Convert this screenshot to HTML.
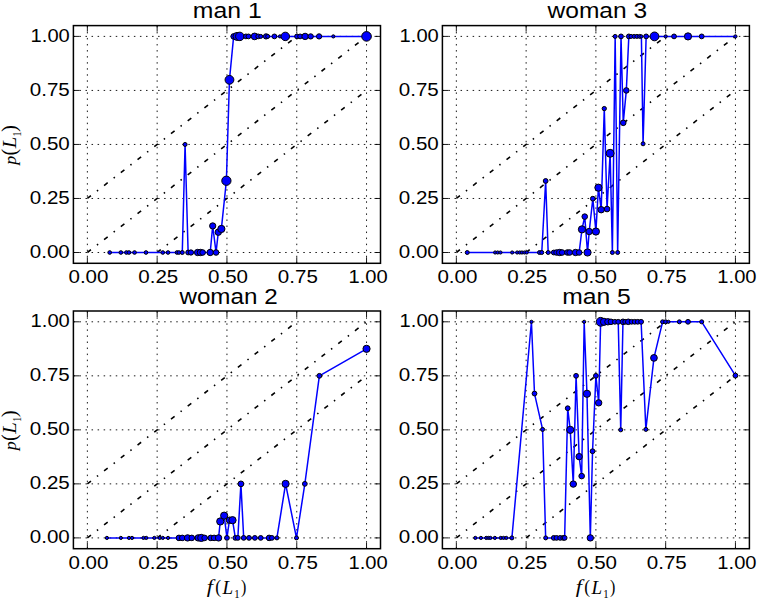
<!DOCTYPE html><html><head><meta charset="utf-8"><style>html,body{margin:0;padding:0;background:#fff;}svg{display:block;}text{font-family:"Liberation Sans",sans-serif;fill:#000;}.m{font-family:"Liberation Serif",serif;}.i{font-style:italic;}</style></head><body>
<svg width="758" height="600" viewBox="0 0 758 600">
<rect width="758" height="600" fill="#fff"/>
<clipPath id="cp00"><rect x="73.4" y="25.6" width="307.1" height="237.7"/></clipPath>
<g clip-path="url(#cp00)">
<path d="M87.36 263.3L87.36 25.6M73.4 252.5L380.5 252.5M157.15 263.3L157.15 25.6M73.4 198.47L380.5 198.47M226.95 263.3L226.95 25.6M73.4 144.45L380.5 144.45M296.75 263.3L296.75 25.6M73.4 90.43L380.5 90.43M366.54 263.3L366.54 25.6M73.4 36.4L380.5 36.4" stroke="#000" stroke-width="0.9" stroke-dasharray="1.5 4.55" fill="none"/>
<path d="M87.36 198.47L296.75 36.4" stroke="#000" stroke-width="1.6" stroke-dasharray="4.55 7.55 1.5 7.55" fill="none"/>
<path d="M87.36 252.5L366.54 36.4" stroke="#000" stroke-width="1.6" stroke-dasharray="4.55 7.55 1.5 7.55" fill="none"/>
<path d="M157.15 252.5L366.54 90.43" stroke="#000" stroke-width="1.6" stroke-dasharray="4.55 7.55 1.5 7.55" fill="none"/>
<path d="M109.69 252.5 L120.86 252.5 L126.44 252.5 L128.96 252.5 L134.54 252.5 L145.99 252.5 L162.74 252.5 L168.04 252.5 L176.98 252.5 L178.93 252.5 L182.28 252.5 L185.07 144.45 L188.14 252.5 L190.94 252.5 L197.64 252.5 L200.43 252.5 L202.66 252.5 L210.2 252.5 L212.71 225.92 L216.06 252.5 L218.3 232.18 L221.37 228.94 L226.39 180.75 L229.46 79.84 L233.65 36.4 L237 36.4 L239.79 36.4 L245.93 36.4 L248.45 36.4 L254.59 36.4 L258.22 36.4 L260.73 36.4 L266.04 36.4 L267.71 36.4 L274.41 36.4 L279.99 36.4 L285.3 36.4 L297.02 36.4 L300.1 36.4 L305.12 36.4 L310.7 36.4 L319.08 36.4 L333.32 36.4 L366.54 36.4" stroke="#0000ff" stroke-width="1.5" fill="none" stroke-linejoin="round"/>
<circle cx="109.69" cy="252.5" r="1.84" fill="#0000ff" stroke="#000" stroke-width="1.0"/>
<circle cx="120.86" cy="252.5" r="1.84" fill="#0000ff" stroke="#000" stroke-width="1.0"/>
<circle cx="126.44" cy="252.5" r="1.84" fill="#0000ff" stroke="#000" stroke-width="1.0"/>
<circle cx="128.96" cy="252.5" r="1.84" fill="#0000ff" stroke="#000" stroke-width="1.0"/>
<circle cx="134.54" cy="252.5" r="1.84" fill="#0000ff" stroke="#000" stroke-width="1.0"/>
<circle cx="145.99" cy="252.5" r="1.84" fill="#0000ff" stroke="#000" stroke-width="1.0"/>
<circle cx="162.74" cy="252.5" r="1.84" fill="#0000ff" stroke="#000" stroke-width="1.0"/>
<circle cx="168.04" cy="252.5" r="1.84" fill="#0000ff" stroke="#000" stroke-width="1.0"/>
<circle cx="176.98" cy="252.5" r="1.84" fill="#0000ff" stroke="#000" stroke-width="1.0"/>
<circle cx="178.93" cy="252.5" r="1.84" fill="#0000ff" stroke="#000" stroke-width="1.0"/>
<circle cx="182.28" cy="252.5" r="2" fill="#0000ff" stroke="#000" stroke-width="1.0"/>
<circle cx="185.07" cy="144.45" r="2" fill="#0000ff" stroke="#000" stroke-width="1.0"/>
<circle cx="188.14" cy="252.5" r="2.4" fill="#0000ff" stroke="#000" stroke-width="1.0"/>
<circle cx="190.94" cy="252.5" r="2.64" fill="#0000ff" stroke="#000" stroke-width="1.0"/>
<circle cx="197.64" cy="252.5" r="3.2" fill="#0000ff" stroke="#000" stroke-width="1.0"/>
<circle cx="200.43" cy="252.5" r="3.2" fill="#0000ff" stroke="#000" stroke-width="1.0"/>
<circle cx="202.66" cy="252.5" r="2.8" fill="#0000ff" stroke="#000" stroke-width="1.0"/>
<circle cx="210.2" cy="252.5" r="3.2" fill="#0000ff" stroke="#000" stroke-width="1.0"/>
<circle cx="212.71" cy="225.92" r="3.12" fill="#0000ff" stroke="#000" stroke-width="1.0"/>
<circle cx="216.06" cy="252.5" r="2.8" fill="#0000ff" stroke="#000" stroke-width="1.0"/>
<circle cx="218.3" cy="232.18" r="3.2" fill="#0000ff" stroke="#000" stroke-width="1.0"/>
<circle cx="221.37" cy="228.94" r="3.6" fill="#0000ff" stroke="#000" stroke-width="1.0"/>
<circle cx="226.39" cy="180.75" r="4.64" fill="#0000ff" stroke="#000" stroke-width="1.0"/>
<circle cx="229.46" cy="79.84" r="4.4" fill="#0000ff" stroke="#000" stroke-width="1.0"/>
<circle cx="233.65" cy="36.4" r="2.8" fill="#0000ff" stroke="#000" stroke-width="1.0"/>
<circle cx="237" cy="36.4" r="4" fill="#0000ff" stroke="#000" stroke-width="1.0"/>
<circle cx="239.79" cy="36.4" r="4.24" fill="#0000ff" stroke="#000" stroke-width="1.0"/>
<circle cx="245.93" cy="36.4" r="2.4" fill="#0000ff" stroke="#000" stroke-width="1.0"/>
<circle cx="248.45" cy="36.4" r="2.4" fill="#0000ff" stroke="#000" stroke-width="1.0"/>
<circle cx="254.59" cy="36.4" r="3.36" fill="#0000ff" stroke="#000" stroke-width="1.0"/>
<circle cx="258.22" cy="36.4" r="2.4" fill="#0000ff" stroke="#000" stroke-width="1.0"/>
<circle cx="260.73" cy="36.4" r="2" fill="#0000ff" stroke="#000" stroke-width="1.0"/>
<circle cx="266.04" cy="36.4" r="2.64" fill="#0000ff" stroke="#000" stroke-width="1.0"/>
<circle cx="267.71" cy="36.4" r="2" fill="#0000ff" stroke="#000" stroke-width="1.0"/>
<circle cx="274.41" cy="36.4" r="2.4" fill="#0000ff" stroke="#000" stroke-width="1.0"/>
<circle cx="279.99" cy="36.4" r="1.6" fill="#0000ff" stroke="#000" stroke-width="1.0"/>
<circle cx="285.3" cy="36.4" r="4.24" fill="#0000ff" stroke="#000" stroke-width="1.0"/>
<circle cx="297.02" cy="36.4" r="2.4" fill="#0000ff" stroke="#000" stroke-width="1.0"/>
<circle cx="300.1" cy="36.4" r="2.4" fill="#0000ff" stroke="#000" stroke-width="1.0"/>
<circle cx="305.12" cy="36.4" r="3.2" fill="#0000ff" stroke="#000" stroke-width="1.0"/>
<circle cx="310.7" cy="36.4" r="2.64" fill="#0000ff" stroke="#000" stroke-width="1.0"/>
<circle cx="319.08" cy="36.4" r="2.64" fill="#0000ff" stroke="#000" stroke-width="1.0"/>
<circle cx="333.32" cy="36.4" r="1.6" fill="#0000ff" stroke="#000" stroke-width="1.0"/>
<circle cx="366.54" cy="36.4" r="4.8" fill="#0000ff" stroke="#000" stroke-width="1.0"/>
</g>
<path d="M87.36 263.3v-6M87.36 25.6v6M73.4 252.5h6M380.5 252.5h-6M157.15 263.3v-6M157.15 25.6v6M73.4 198.47h6M380.5 198.47h-6M226.95 263.3v-6M226.95 25.6v6M73.4 144.45h6M380.5 144.45h-6M296.75 263.3v-6M296.75 25.6v6M73.4 90.43h6M380.5 90.43h-6M366.54 263.3v-6M366.54 25.6v6M73.4 36.4h6M380.5 36.4h-6" stroke="#000" stroke-width="0.9" fill="none"/>
<rect x="73.4" y="25.6" width="307.1" height="237.7" fill="none" stroke="#000" stroke-width="1.5"/>
<text x="88.46" y="283.1" font-size="19.0" text-anchor="middle" textLength="40" lengthAdjust="spacingAndGlyphs">0.00</text>
<text x="69.8" y="257.8" font-size="19.0" text-anchor="end" textLength="40" lengthAdjust="spacingAndGlyphs">0.00</text>
<text x="158.25" y="283.1" font-size="19.0" text-anchor="middle" textLength="40" lengthAdjust="spacingAndGlyphs">0.25</text>
<text x="69.8" y="203.77" font-size="19.0" text-anchor="end" textLength="40" lengthAdjust="spacingAndGlyphs">0.25</text>
<text x="228.05" y="283.1" font-size="19.0" text-anchor="middle" textLength="40" lengthAdjust="spacingAndGlyphs">0.50</text>
<text x="69.8" y="149.75" font-size="19.0" text-anchor="end" textLength="40" lengthAdjust="spacingAndGlyphs">0.50</text>
<text x="297.85" y="283.1" font-size="19.0" text-anchor="middle" textLength="40" lengthAdjust="spacingAndGlyphs">0.75</text>
<text x="69.8" y="95.73" font-size="19.0" text-anchor="end" textLength="40" lengthAdjust="spacingAndGlyphs">0.75</text>
<text x="368.04" y="283.1" font-size="19.0" text-anchor="middle" textLength="39.2" lengthAdjust="spacingAndGlyphs">1.00</text>
<text x="69.8" y="41.7" font-size="19.0" text-anchor="end" textLength="39.2" lengthAdjust="spacingAndGlyphs">1.00</text>
<text x="192.85" y="17.90" font-size="22" textLength="68.85" lengthAdjust="spacingAndGlyphs">man 1</text>
<text class="m i" font-size="100" transform="matrix(0.00000 -0.17982 0.17103 0.00000 15.85889 164.84640)">p</text>
<text class="m" font-size="100" transform="matrix(0.00000 -0.20246 0.20072 0.00000 16.12687 155.58973)">(</text>
<text class="m i" font-size="100" transform="matrix(0.00000 -0.20749 0.18479 0.00000 15.60000 148.35685)">L</text>
<text class="m" font-size="100" transform="matrix(0.00000 -0.09942 0.11815 0.00000 20.80000 136.47379)">1</text>
<text class="m" font-size="100" transform="matrix(0.00000 -0.20636 0.20072 0.00000 16.12687 131.96502)">)</text>
<clipPath id="cp01"><rect x="442.4" y="25.6" width="307" height="237.7"/></clipPath>
<g clip-path="url(#cp01)">
<path d="M456.35 263.3L456.35 25.6M442.4 252.5L749.4 252.5M526.13 263.3L526.13 25.6M442.4 198.47L749.4 198.47M595.9 263.3L595.9 25.6M442.4 144.45L749.4 144.45M665.67 263.3L665.67 25.6M442.4 90.43L749.4 90.43M735.45 263.3L735.45 25.6M442.4 36.4L749.4 36.4" stroke="#000" stroke-width="0.9" stroke-dasharray="1.5 4.55" fill="none"/>
<path d="M456.35 198.47L665.67 36.4" stroke="#000" stroke-width="1.6" stroke-dasharray="4.55 7.55 1.5 7.55" fill="none"/>
<path d="M456.35 252.5L735.45 36.4" stroke="#000" stroke-width="1.6" stroke-dasharray="4.55 7.55 1.5 7.55" fill="none"/>
<path d="M526.13 252.5L735.45 90.43" stroke="#000" stroke-width="1.6" stroke-dasharray="4.55 7.55 1.5 7.55" fill="none"/>
<path d="M467.24 252.5 L495.15 252.5 L497.66 252.5 L500.45 252.5 L512.17 252.5 L517.2 252.5 L519.71 252.5 L521.94 252.5 L524.45 252.5 L526.69 252.5 L539.52 252.5 L541.76 252.5 L545.66 180.97 L548.18 252.5 L553.76 252.5 L556.55 252.5 L559.62 252.5 L562.13 252.5 L567.43 252.5 L569.67 252.5 L575.53 252.5 L579.15 252.5 L581.95 229.37 L584.74 216.62 L587.53 252.5 L589.2 231.53 L592.83 198.69 L595.9 231.53 L598.41 187.67 L601.2 209.71 L604.27 108.58 L607.06 209.06 L610.13 153.31 L612.37 252.5 L615.16 36.4 L617.67 252.5 L621.02 36.4 L623.25 122.84 L626.32 90.43 L628.83 36.4 L631.07 36.4 L634.14 36.4 L636.93 36.4 L639.72 36.4 L641.39 36.4 L643.07 143.8 L646.14 36.4 L654.51 36.4 L665.67 36.4 L674.05 36.4 L688 36.4 L701.68 36.4 L735.45 36.4" stroke="#0000ff" stroke-width="1.5" fill="none" stroke-linejoin="round"/>
<circle cx="467.24" cy="252.5" r="2" fill="#0000ff" stroke="#000" stroke-width="1.0"/>
<circle cx="495.15" cy="252.5" r="1.6" fill="#0000ff" stroke="#000" stroke-width="1.0"/>
<circle cx="497.66" cy="252.5" r="1.6" fill="#0000ff" stroke="#000" stroke-width="1.0"/>
<circle cx="500.45" cy="252.5" r="1.6" fill="#0000ff" stroke="#000" stroke-width="1.0"/>
<circle cx="512.17" cy="252.5" r="1.6" fill="#0000ff" stroke="#000" stroke-width="1.0"/>
<circle cx="517.2" cy="252.5" r="1.6" fill="#0000ff" stroke="#000" stroke-width="1.0"/>
<circle cx="519.71" cy="252.5" r="1.6" fill="#0000ff" stroke="#000" stroke-width="1.0"/>
<circle cx="521.94" cy="252.5" r="1.6" fill="#0000ff" stroke="#000" stroke-width="1.0"/>
<circle cx="524.45" cy="252.5" r="1.6" fill="#0000ff" stroke="#000" stroke-width="1.0"/>
<circle cx="526.69" cy="252.5" r="1.6" fill="#0000ff" stroke="#000" stroke-width="1.0"/>
<circle cx="539.52" cy="252.5" r="2" fill="#0000ff" stroke="#000" stroke-width="1.0"/>
<circle cx="541.76" cy="252.5" r="2" fill="#0000ff" stroke="#000" stroke-width="1.0"/>
<circle cx="545.66" cy="180.97" r="2.4" fill="#0000ff" stroke="#000" stroke-width="1.0"/>
<circle cx="548.18" cy="252.5" r="2" fill="#0000ff" stroke="#000" stroke-width="1.0"/>
<circle cx="553.76" cy="252.5" r="2.4" fill="#0000ff" stroke="#000" stroke-width="1.0"/>
<circle cx="556.55" cy="252.5" r="2.8" fill="#0000ff" stroke="#000" stroke-width="1.0"/>
<circle cx="559.62" cy="252.5" r="3.2" fill="#0000ff" stroke="#000" stroke-width="1.0"/>
<circle cx="562.13" cy="252.5" r="2.8" fill="#0000ff" stroke="#000" stroke-width="1.0"/>
<circle cx="567.43" cy="252.5" r="2.8" fill="#0000ff" stroke="#000" stroke-width="1.0"/>
<circle cx="569.67" cy="252.5" r="2.8" fill="#0000ff" stroke="#000" stroke-width="1.0"/>
<circle cx="575.53" cy="252.5" r="3.2" fill="#0000ff" stroke="#000" stroke-width="1.0"/>
<circle cx="579.15" cy="252.5" r="2.8" fill="#0000ff" stroke="#000" stroke-width="1.0"/>
<circle cx="581.95" cy="229.37" r="3.6" fill="#0000ff" stroke="#000" stroke-width="1.0"/>
<circle cx="584.74" cy="216.62" r="2.8" fill="#0000ff" stroke="#000" stroke-width="1.0"/>
<circle cx="587.53" cy="252.5" r="3.6" fill="#0000ff" stroke="#000" stroke-width="1.0"/>
<circle cx="589.2" cy="231.53" r="3.2" fill="#0000ff" stroke="#000" stroke-width="1.0"/>
<circle cx="592.83" cy="198.69" r="2.4" fill="#0000ff" stroke="#000" stroke-width="1.0"/>
<circle cx="595.9" cy="231.53" r="3.6" fill="#0000ff" stroke="#000" stroke-width="1.0"/>
<circle cx="598.41" cy="187.67" r="3.6" fill="#0000ff" stroke="#000" stroke-width="1.0"/>
<circle cx="601.2" cy="209.71" r="3.2" fill="#0000ff" stroke="#000" stroke-width="1.0"/>
<circle cx="604.27" cy="108.58" r="2.16" fill="#0000ff" stroke="#000" stroke-width="1.0"/>
<circle cx="607.06" cy="209.06" r="2.8" fill="#0000ff" stroke="#000" stroke-width="1.0"/>
<circle cx="610.13" cy="153.31" r="4" fill="#0000ff" stroke="#000" stroke-width="1.0"/>
<circle cx="612.37" cy="252.5" r="2" fill="#0000ff" stroke="#000" stroke-width="1.0"/>
<circle cx="615.16" cy="36.4" r="2" fill="#0000ff" stroke="#000" stroke-width="1.0"/>
<circle cx="617.67" cy="252.5" r="2" fill="#0000ff" stroke="#000" stroke-width="1.0"/>
<circle cx="621.02" cy="36.4" r="2.4" fill="#0000ff" stroke="#000" stroke-width="1.0"/>
<circle cx="623.25" cy="122.84" r="2.8" fill="#0000ff" stroke="#000" stroke-width="1.0"/>
<circle cx="626.32" cy="90.43" r="2.8" fill="#0000ff" stroke="#000" stroke-width="1.0"/>
<circle cx="628.83" cy="36.4" r="2.4" fill="#0000ff" stroke="#000" stroke-width="1.0"/>
<circle cx="631.07" cy="36.4" r="2" fill="#0000ff" stroke="#000" stroke-width="1.0"/>
<circle cx="634.14" cy="36.4" r="2" fill="#0000ff" stroke="#000" stroke-width="1.0"/>
<circle cx="636.93" cy="36.4" r="2" fill="#0000ff" stroke="#000" stroke-width="1.0"/>
<circle cx="639.72" cy="36.4" r="2" fill="#0000ff" stroke="#000" stroke-width="1.0"/>
<circle cx="641.39" cy="36.4" r="1.6" fill="#0000ff" stroke="#000" stroke-width="1.0"/>
<circle cx="643.07" cy="143.8" r="2" fill="#0000ff" stroke="#000" stroke-width="1.0"/>
<circle cx="646.14" cy="36.4" r="2.4" fill="#0000ff" stroke="#000" stroke-width="1.0"/>
<circle cx="654.51" cy="36.4" r="4.4" fill="#0000ff" stroke="#000" stroke-width="1.0"/>
<circle cx="665.67" cy="36.4" r="1.6" fill="#0000ff" stroke="#000" stroke-width="1.0"/>
<circle cx="674.05" cy="36.4" r="2.4" fill="#0000ff" stroke="#000" stroke-width="1.0"/>
<circle cx="688" cy="36.4" r="3.6" fill="#0000ff" stroke="#000" stroke-width="1.0"/>
<circle cx="701.68" cy="36.4" r="2.4" fill="#0000ff" stroke="#000" stroke-width="1.0"/>
<circle cx="735.45" cy="36.4" r="1.6" fill="#0000ff" stroke="#000" stroke-width="1.0"/>
</g>
<path d="M456.35 263.3v-6M456.35 25.6v6M442.4 252.5h6M749.4 252.5h-6M526.13 263.3v-6M526.13 25.6v6M442.4 198.47h6M749.4 198.47h-6M595.9 263.3v-6M595.9 25.6v6M442.4 144.45h6M749.4 144.45h-6M665.67 263.3v-6M665.67 25.6v6M442.4 90.43h6M749.4 90.43h-6M735.45 263.3v-6M735.45 25.6v6M442.4 36.4h6M749.4 36.4h-6" stroke="#000" stroke-width="0.9" fill="none"/>
<rect x="442.4" y="25.6" width="307" height="237.7" fill="none" stroke="#000" stroke-width="1.5"/>
<text x="457.45" y="283.1" font-size="19.0" text-anchor="middle" textLength="40" lengthAdjust="spacingAndGlyphs">0.00</text>
<text x="438.8" y="257.8" font-size="19.0" text-anchor="end" textLength="40" lengthAdjust="spacingAndGlyphs">0.00</text>
<text x="527.23" y="283.1" font-size="19.0" text-anchor="middle" textLength="40" lengthAdjust="spacingAndGlyphs">0.25</text>
<text x="438.8" y="203.77" font-size="19.0" text-anchor="end" textLength="40" lengthAdjust="spacingAndGlyphs">0.25</text>
<text x="597" y="283.1" font-size="19.0" text-anchor="middle" textLength="40" lengthAdjust="spacingAndGlyphs">0.50</text>
<text x="438.8" y="149.75" font-size="19.0" text-anchor="end" textLength="40" lengthAdjust="spacingAndGlyphs">0.50</text>
<text x="666.77" y="283.1" font-size="19.0" text-anchor="middle" textLength="40" lengthAdjust="spacingAndGlyphs">0.75</text>
<text x="438.8" y="95.73" font-size="19.0" text-anchor="end" textLength="40" lengthAdjust="spacingAndGlyphs">0.75</text>
<text x="736.95" y="283.1" font-size="19.0" text-anchor="middle" textLength="39.2" lengthAdjust="spacingAndGlyphs">1.00</text>
<text x="438.8" y="41.7" font-size="19.0" text-anchor="end" textLength="39.2" lengthAdjust="spacingAndGlyphs">1.00</text>
<text x="547.54" y="17.90" font-size="22" textLength="99.54" lengthAdjust="spacingAndGlyphs">woman 3</text>
<clipPath id="cp10"><rect x="73.4" y="311" width="307.1" height="237.7"/></clipPath>
<g clip-path="url(#cp10)">
<path d="M87.36 548.7L87.36 311M73.4 537.9L380.5 537.9M157.15 548.7L157.15 311M73.4 483.87L380.5 483.87M226.95 548.7L226.95 311M73.4 429.85L380.5 429.85M296.75 548.7L296.75 311M73.4 375.83L380.5 375.83M366.54 548.7L366.54 311M73.4 321.8L380.5 321.8" stroke="#000" stroke-width="0.9" stroke-dasharray="1.5 4.55" fill="none"/>
<path d="M87.36 483.87L296.75 321.8" stroke="#000" stroke-width="1.6" stroke-dasharray="4.55 7.55 1.5 7.55" fill="none"/>
<path d="M87.36 537.9L366.54 321.8" stroke="#000" stroke-width="1.6" stroke-dasharray="4.55 7.55 1.5 7.55" fill="none"/>
<path d="M157.15 537.9L366.54 375.83" stroke="#000" stroke-width="1.6" stroke-dasharray="4.55 7.55 1.5 7.55" fill="none"/>
<path d="M106.9 537.9 L120.86 537.9 L128.96 537.9 L132.03 537.9 L143.47 537.9 L146.27 537.9 L154.36 537.9 L159.67 537.9 L162.74 537.9 L168.04 537.9 L178.93 537.9 L182.28 537.9 L187.59 537.9 L191.77 537.9 L198.19 537.9 L201.27 537.9 L204.62 537.9 L210.76 537.9 L214.11 537.9 L218.57 537.9 L220.25 521.47 L224.16 515.64 L226.95 537.9 L229.46 520.18 L232.53 520.18 L235.33 537.9 L237.84 537.9 L240.91 483.87 L243.7 537.9 L249.01 537.9 L254.87 537.9 L260.73 537.9 L269.11 537.9 L271.9 537.9 L276.92 537.9 L285.58 483.87 L296.47 537.9 L304.84 483.87 L319.36 375.83 L366.54 348.82" stroke="#0000ff" stroke-width="1.5" fill="none" stroke-linejoin="round"/>
<circle cx="106.9" cy="537.9" r="1.6" fill="#0000ff" stroke="#000" stroke-width="1.0"/>
<circle cx="120.86" cy="537.9" r="1.6" fill="#0000ff" stroke="#000" stroke-width="1.0"/>
<circle cx="128.96" cy="537.9" r="1.6" fill="#0000ff" stroke="#000" stroke-width="1.0"/>
<circle cx="132.03" cy="537.9" r="1.6" fill="#0000ff" stroke="#000" stroke-width="1.0"/>
<circle cx="143.47" cy="537.9" r="1.6" fill="#0000ff" stroke="#000" stroke-width="1.0"/>
<circle cx="146.27" cy="537.9" r="1.6" fill="#0000ff" stroke="#000" stroke-width="1.0"/>
<circle cx="154.36" cy="537.9" r="1.6" fill="#0000ff" stroke="#000" stroke-width="1.0"/>
<circle cx="159.67" cy="537.9" r="1.6" fill="#0000ff" stroke="#000" stroke-width="1.0"/>
<circle cx="162.74" cy="537.9" r="1.6" fill="#0000ff" stroke="#000" stroke-width="1.0"/>
<circle cx="168.04" cy="537.9" r="1.6" fill="#0000ff" stroke="#000" stroke-width="1.0"/>
<circle cx="178.93" cy="537.9" r="2.8" fill="#0000ff" stroke="#000" stroke-width="1.0"/>
<circle cx="182.28" cy="537.9" r="2.8" fill="#0000ff" stroke="#000" stroke-width="1.0"/>
<circle cx="187.59" cy="537.9" r="3.2" fill="#0000ff" stroke="#000" stroke-width="1.0"/>
<circle cx="191.77" cy="537.9" r="2.8" fill="#0000ff" stroke="#000" stroke-width="1.0"/>
<circle cx="198.19" cy="537.9" r="3.2" fill="#0000ff" stroke="#000" stroke-width="1.0"/>
<circle cx="201.27" cy="537.9" r="3.6" fill="#0000ff" stroke="#000" stroke-width="1.0"/>
<circle cx="204.62" cy="537.9" r="2.8" fill="#0000ff" stroke="#000" stroke-width="1.0"/>
<circle cx="210.76" cy="537.9" r="2.8" fill="#0000ff" stroke="#000" stroke-width="1.0"/>
<circle cx="214.11" cy="537.9" r="2.8" fill="#0000ff" stroke="#000" stroke-width="1.0"/>
<circle cx="218.57" cy="537.9" r="3.2" fill="#0000ff" stroke="#000" stroke-width="1.0"/>
<circle cx="220.25" cy="521.47" r="3.6" fill="#0000ff" stroke="#000" stroke-width="1.0"/>
<circle cx="224.16" cy="515.64" r="3.6" fill="#0000ff" stroke="#000" stroke-width="1.0"/>
<circle cx="226.95" cy="537.9" r="2.4" fill="#0000ff" stroke="#000" stroke-width="1.0"/>
<circle cx="229.46" cy="520.18" r="3.2" fill="#0000ff" stroke="#000" stroke-width="1.0"/>
<circle cx="232.53" cy="520.18" r="3.6" fill="#0000ff" stroke="#000" stroke-width="1.0"/>
<circle cx="235.33" cy="537.9" r="2.4" fill="#0000ff" stroke="#000" stroke-width="1.0"/>
<circle cx="237.84" cy="537.9" r="2.4" fill="#0000ff" stroke="#000" stroke-width="1.0"/>
<circle cx="240.91" cy="483.87" r="2.88" fill="#0000ff" stroke="#000" stroke-width="1.0"/>
<circle cx="243.7" cy="537.9" r="2.4" fill="#0000ff" stroke="#000" stroke-width="1.0"/>
<circle cx="249.01" cy="537.9" r="2.4" fill="#0000ff" stroke="#000" stroke-width="1.0"/>
<circle cx="254.87" cy="537.9" r="2.4" fill="#0000ff" stroke="#000" stroke-width="1.0"/>
<circle cx="260.73" cy="537.9" r="2.4" fill="#0000ff" stroke="#000" stroke-width="1.0"/>
<circle cx="269.11" cy="537.9" r="2.8" fill="#0000ff" stroke="#000" stroke-width="1.0"/>
<circle cx="271.9" cy="537.9" r="2.4" fill="#0000ff" stroke="#000" stroke-width="1.0"/>
<circle cx="276.92" cy="537.9" r="2" fill="#0000ff" stroke="#000" stroke-width="1.0"/>
<circle cx="285.58" cy="483.87" r="3.6" fill="#0000ff" stroke="#000" stroke-width="1.0"/>
<circle cx="296.47" cy="537.9" r="2" fill="#0000ff" stroke="#000" stroke-width="1.0"/>
<circle cx="304.84" cy="483.87" r="2.4" fill="#0000ff" stroke="#000" stroke-width="1.0"/>
<circle cx="319.36" cy="375.83" r="2.4" fill="#0000ff" stroke="#000" stroke-width="1.0"/>
<circle cx="366.54" cy="348.82" r="3.6" fill="#0000ff" stroke="#000" stroke-width="1.0"/>
</g>
<path d="M87.36 548.7v-6M87.36 311v6M73.4 537.9h6M380.5 537.9h-6M157.15 548.7v-6M157.15 311v6M73.4 483.87h6M380.5 483.87h-6M226.95 548.7v-6M226.95 311v6M73.4 429.85h6M380.5 429.85h-6M296.75 548.7v-6M296.75 311v6M73.4 375.83h6M380.5 375.83h-6M366.54 548.7v-6M366.54 311v6M73.4 321.8h6M380.5 321.8h-6" stroke="#000" stroke-width="0.9" fill="none"/>
<rect x="73.4" y="311" width="307.1" height="237.7" fill="none" stroke="#000" stroke-width="1.5"/>
<text x="88.46" y="568.5" font-size="19.0" text-anchor="middle" textLength="40" lengthAdjust="spacingAndGlyphs">0.00</text>
<text x="69.8" y="543.2" font-size="19.0" text-anchor="end" textLength="40" lengthAdjust="spacingAndGlyphs">0.00</text>
<text x="158.25" y="568.5" font-size="19.0" text-anchor="middle" textLength="40" lengthAdjust="spacingAndGlyphs">0.25</text>
<text x="69.8" y="489.17" font-size="19.0" text-anchor="end" textLength="40" lengthAdjust="spacingAndGlyphs">0.25</text>
<text x="228.05" y="568.5" font-size="19.0" text-anchor="middle" textLength="40" lengthAdjust="spacingAndGlyphs">0.50</text>
<text x="69.8" y="435.15" font-size="19.0" text-anchor="end" textLength="40" lengthAdjust="spacingAndGlyphs">0.50</text>
<text x="297.85" y="568.5" font-size="19.0" text-anchor="middle" textLength="40" lengthAdjust="spacingAndGlyphs">0.75</text>
<text x="69.8" y="381.13" font-size="19.0" text-anchor="end" textLength="40" lengthAdjust="spacingAndGlyphs">0.75</text>
<text x="368.04" y="568.5" font-size="19.0" text-anchor="middle" textLength="39.2" lengthAdjust="spacingAndGlyphs">1.00</text>
<text x="69.8" y="327.1" font-size="19.0" text-anchor="end" textLength="39.2" lengthAdjust="spacingAndGlyphs">1.00</text>
<text x="179.44" y="303.60" font-size="22" textLength="98.18" lengthAdjust="spacingAndGlyphs">woman 2</text>
<text class="m i" font-size="100" transform="matrix(0.00000 -0.17982 0.17103 0.00000 15.85889 450.24640)">p</text>
<text class="m" font-size="100" transform="matrix(0.00000 -0.20246 0.20072 0.00000 16.12687 440.98973)">(</text>
<text class="m i" font-size="100" transform="matrix(0.00000 -0.20749 0.18479 0.00000 15.60000 433.75685)">L</text>
<text class="m" font-size="100" transform="matrix(0.00000 -0.09942 0.11815 0.00000 20.80000 421.87379)">1</text>
<text class="m" font-size="100" transform="matrix(0.00000 -0.20636 0.20072 0.00000 16.12687 417.36502)">)</text>
<text class="m i" font-size="100" transform="matrix(0.22261 0.00000 0.00000 0.17885 206.65000 592.79255)">f</text>
<text class="m" font-size="100" transform="matrix(0.17521 0.00000 0.00000 0.19741 215.33004 593.49731)">(</text>
<text class="m i" font-size="100" transform="matrix(0.19020 0.00000 0.00000 0.18785 222.52289 593.50000)">L</text>
<text class="m" font-size="100" transform="matrix(0.10794 0.00000 0.00000 0.13027 234.35132 598.00000)">1</text>
<text class="m" font-size="100" transform="matrix(0.15963 0.00000 0.00000 0.19741 240.98555 593.49731)">)</text>
<clipPath id="cp11"><rect x="442.4" y="311" width="307" height="237.7"/></clipPath>
<g clip-path="url(#cp11)">
<path d="M456.35 548.7L456.35 311M442.4 537.9L749.4 537.9M526.13 548.7L526.13 311M442.4 483.87L749.4 483.87M595.9 548.7L595.9 311M442.4 429.85L749.4 429.85M665.67 548.7L665.67 311M442.4 375.83L749.4 375.83M735.45 548.7L735.45 311M442.4 321.8L749.4 321.8" stroke="#000" stroke-width="0.9" stroke-dasharray="1.5 4.55" fill="none"/>
<path d="M456.35 483.87L665.67 321.8" stroke="#000" stroke-width="1.6" stroke-dasharray="4.55 7.55 1.5 7.55" fill="none"/>
<path d="M456.35 537.9L735.45 321.8" stroke="#000" stroke-width="1.6" stroke-dasharray="4.55 7.55 1.5 7.55" fill="none"/>
<path d="M526.13 537.9L735.45 375.83" stroke="#000" stroke-width="1.6" stroke-dasharray="4.55 7.55 1.5 7.55" fill="none"/>
<path d="M475.33 537.9 L480.91 537.9 L486.22 537.9 L488.45 537.9 L490.4 537.9 L494.87 537.9 L500.73 537.9 L503.52 537.9 L506.31 537.9 L511.89 537.9 L531.43 321.8 L534.5 393.55 L542.59 429.42 L545.66 537.9 L553.76 537.9 L556.55 537.9 L560.18 537.9 L563.25 537.9 L564.64 537.9 L567.71 408.24 L570.22 429.85 L573.29 484.09 L576.08 375.83 L579.15 456.65 L581.67 476.09 L584.18 321.8 L586.97 393.76 L590.32 537.9 L592.55 451.24 L595.9 375.83 L598.69 402.84 L600.64 321.8 L603.99 321.8 L607.9 321.8 L610.97 321.8 L614.88 321.8 L618.23 321.8 L620.74 429.85 L622.97 321.8 L625.2 321.8 L628.27 321.8 L631.62 321.8 L634.69 321.8 L637.76 321.8 L641.11 321.8 L645.86 429.42 L653.95 357.89 L662.6 321.8 L665.67 321.8 L668.46 321.8 L679.35 321.8 L688 321.8 L701.68 321.8 L735.45 375.61" stroke="#0000ff" stroke-width="1.5" fill="none" stroke-linejoin="round"/>
<circle cx="475.33" cy="537.9" r="1.6" fill="#0000ff" stroke="#000" stroke-width="1.0"/>
<circle cx="480.91" cy="537.9" r="1.6" fill="#0000ff" stroke="#000" stroke-width="1.0"/>
<circle cx="486.22" cy="537.9" r="1.6" fill="#0000ff" stroke="#000" stroke-width="1.0"/>
<circle cx="488.45" cy="537.9" r="1.6" fill="#0000ff" stroke="#000" stroke-width="1.0"/>
<circle cx="490.4" cy="537.9" r="1.6" fill="#0000ff" stroke="#000" stroke-width="1.0"/>
<circle cx="494.87" cy="537.9" r="1.6" fill="#0000ff" stroke="#000" stroke-width="1.0"/>
<circle cx="500.73" cy="537.9" r="1.6" fill="#0000ff" stroke="#000" stroke-width="1.0"/>
<circle cx="503.52" cy="537.9" r="1.6" fill="#0000ff" stroke="#000" stroke-width="1.0"/>
<circle cx="506.31" cy="537.9" r="1.6" fill="#0000ff" stroke="#000" stroke-width="1.0"/>
<circle cx="511.89" cy="537.9" r="2" fill="#0000ff" stroke="#000" stroke-width="1.0"/>
<circle cx="531.43" cy="321.8" r="1.6" fill="#0000ff" stroke="#000" stroke-width="1.0"/>
<circle cx="534.5" cy="393.55" r="2.4" fill="#0000ff" stroke="#000" stroke-width="1.0"/>
<circle cx="542.59" cy="429.42" r="2" fill="#0000ff" stroke="#000" stroke-width="1.0"/>
<circle cx="545.66" cy="537.9" r="2" fill="#0000ff" stroke="#000" stroke-width="1.0"/>
<circle cx="553.76" cy="537.9" r="2.4" fill="#0000ff" stroke="#000" stroke-width="1.0"/>
<circle cx="556.55" cy="537.9" r="2.4" fill="#0000ff" stroke="#000" stroke-width="1.0"/>
<circle cx="560.18" cy="537.9" r="2.4" fill="#0000ff" stroke="#000" stroke-width="1.0"/>
<circle cx="563.25" cy="537.9" r="2.4" fill="#0000ff" stroke="#000" stroke-width="1.0"/>
<circle cx="564.64" cy="537.9" r="2.4" fill="#0000ff" stroke="#000" stroke-width="1.0"/>
<circle cx="567.71" cy="408.24" r="2.4" fill="#0000ff" stroke="#000" stroke-width="1.0"/>
<circle cx="570.22" cy="429.85" r="3.6" fill="#0000ff" stroke="#000" stroke-width="1.0"/>
<circle cx="573.29" cy="484.09" r="3.2" fill="#0000ff" stroke="#000" stroke-width="1.0"/>
<circle cx="576.08" cy="375.83" r="2.4" fill="#0000ff" stroke="#000" stroke-width="1.0"/>
<circle cx="579.15" cy="456.65" r="3.2" fill="#0000ff" stroke="#000" stroke-width="1.0"/>
<circle cx="581.67" cy="476.09" r="2.8" fill="#0000ff" stroke="#000" stroke-width="1.0"/>
<circle cx="584.18" cy="321.8" r="1.6" fill="#0000ff" stroke="#000" stroke-width="1.0"/>
<circle cx="586.97" cy="393.76" r="3.6" fill="#0000ff" stroke="#000" stroke-width="1.0"/>
<circle cx="590.32" cy="537.9" r="3.2" fill="#0000ff" stroke="#000" stroke-width="1.0"/>
<circle cx="592.55" cy="451.24" r="2.4" fill="#0000ff" stroke="#000" stroke-width="1.0"/>
<circle cx="595.9" cy="375.83" r="2.4" fill="#0000ff" stroke="#000" stroke-width="1.0"/>
<circle cx="598.69" cy="402.84" r="3.2" fill="#0000ff" stroke="#000" stroke-width="1.0"/>
<circle cx="600.64" cy="321.8" r="4.4" fill="#0000ff" stroke="#000" stroke-width="1.0"/>
<circle cx="603.99" cy="321.8" r="3.6" fill="#0000ff" stroke="#000" stroke-width="1.0"/>
<circle cx="607.9" cy="321.8" r="3.2" fill="#0000ff" stroke="#000" stroke-width="1.0"/>
<circle cx="610.97" cy="321.8" r="2.8" fill="#0000ff" stroke="#000" stroke-width="1.0"/>
<circle cx="614.88" cy="321.8" r="2.4" fill="#0000ff" stroke="#000" stroke-width="1.0"/>
<circle cx="618.23" cy="321.8" r="2.4" fill="#0000ff" stroke="#000" stroke-width="1.0"/>
<circle cx="620.74" cy="429.85" r="2" fill="#0000ff" stroke="#000" stroke-width="1.0"/>
<circle cx="622.97" cy="321.8" r="2.8" fill="#0000ff" stroke="#000" stroke-width="1.0"/>
<circle cx="625.2" cy="321.8" r="2.4" fill="#0000ff" stroke="#000" stroke-width="1.0"/>
<circle cx="628.27" cy="321.8" r="2.8" fill="#0000ff" stroke="#000" stroke-width="1.0"/>
<circle cx="631.62" cy="321.8" r="2.4" fill="#0000ff" stroke="#000" stroke-width="1.0"/>
<circle cx="634.69" cy="321.8" r="2.4" fill="#0000ff" stroke="#000" stroke-width="1.0"/>
<circle cx="637.76" cy="321.8" r="2.4" fill="#0000ff" stroke="#000" stroke-width="1.0"/>
<circle cx="641.11" cy="321.8" r="2.4" fill="#0000ff" stroke="#000" stroke-width="1.0"/>
<circle cx="645.86" cy="429.42" r="2" fill="#0000ff" stroke="#000" stroke-width="1.0"/>
<circle cx="653.95" cy="357.89" r="3.36" fill="#0000ff" stroke="#000" stroke-width="1.0"/>
<circle cx="662.6" cy="321.8" r="2" fill="#0000ff" stroke="#000" stroke-width="1.0"/>
<circle cx="665.67" cy="321.8" r="2" fill="#0000ff" stroke="#000" stroke-width="1.0"/>
<circle cx="668.46" cy="321.8" r="1.6" fill="#0000ff" stroke="#000" stroke-width="1.0"/>
<circle cx="679.35" cy="321.8" r="2" fill="#0000ff" stroke="#000" stroke-width="1.0"/>
<circle cx="688" cy="321.8" r="2.4" fill="#0000ff" stroke="#000" stroke-width="1.0"/>
<circle cx="701.68" cy="321.8" r="2" fill="#0000ff" stroke="#000" stroke-width="1.0"/>
<circle cx="735.45" cy="375.61" r="2.4" fill="#0000ff" stroke="#000" stroke-width="1.0"/>
</g>
<path d="M456.35 548.7v-6M456.35 311v6M442.4 537.9h6M749.4 537.9h-6M526.13 548.7v-6M526.13 311v6M442.4 483.87h6M749.4 483.87h-6M595.9 548.7v-6M595.9 311v6M442.4 429.85h6M749.4 429.85h-6M665.67 548.7v-6M665.67 311v6M442.4 375.83h6M749.4 375.83h-6M735.45 548.7v-6M735.45 311v6M442.4 321.8h6M749.4 321.8h-6" stroke="#000" stroke-width="0.9" fill="none"/>
<rect x="442.4" y="311" width="307" height="237.7" fill="none" stroke="#000" stroke-width="1.5"/>
<text x="457.45" y="568.5" font-size="19.0" text-anchor="middle" textLength="40" lengthAdjust="spacingAndGlyphs">0.00</text>
<text x="438.8" y="543.2" font-size="19.0" text-anchor="end" textLength="40" lengthAdjust="spacingAndGlyphs">0.00</text>
<text x="527.23" y="568.5" font-size="19.0" text-anchor="middle" textLength="40" lengthAdjust="spacingAndGlyphs">0.25</text>
<text x="438.8" y="489.17" font-size="19.0" text-anchor="end" textLength="40" lengthAdjust="spacingAndGlyphs">0.25</text>
<text x="597" y="568.5" font-size="19.0" text-anchor="middle" textLength="40" lengthAdjust="spacingAndGlyphs">0.50</text>
<text x="438.8" y="435.15" font-size="19.0" text-anchor="end" textLength="40" lengthAdjust="spacingAndGlyphs">0.50</text>
<text x="666.77" y="568.5" font-size="19.0" text-anchor="middle" textLength="40" lengthAdjust="spacingAndGlyphs">0.75</text>
<text x="438.8" y="381.13" font-size="19.0" text-anchor="end" textLength="40" lengthAdjust="spacingAndGlyphs">0.75</text>
<text x="736.95" y="568.5" font-size="19.0" text-anchor="middle" textLength="39.2" lengthAdjust="spacingAndGlyphs">1.00</text>
<text x="438.8" y="327.1" font-size="19.0" text-anchor="end" textLength="39.2" lengthAdjust="spacingAndGlyphs">1.00</text>
<text x="562.26" y="303.60" font-size="22" textLength="68.57" lengthAdjust="spacingAndGlyphs">man 5</text>
<text class="m i" font-size="100" transform="matrix(0.22261 0.00000 0.00000 0.17885 575.65000 592.79255)">f</text>
<text class="m" font-size="100" transform="matrix(0.17521 0.00000 0.00000 0.19741 584.33004 593.49731)">(</text>
<text class="m i" font-size="100" transform="matrix(0.19020 0.00000 0.00000 0.18785 591.52289 593.50000)">L</text>
<text class="m" font-size="100" transform="matrix(0.10794 0.00000 0.00000 0.13027 603.35132 598.00000)">1</text>
<text class="m" font-size="100" transform="matrix(0.15963 0.00000 0.00000 0.19741 609.98555 593.49731)">)</text>
</svg></body></html>
